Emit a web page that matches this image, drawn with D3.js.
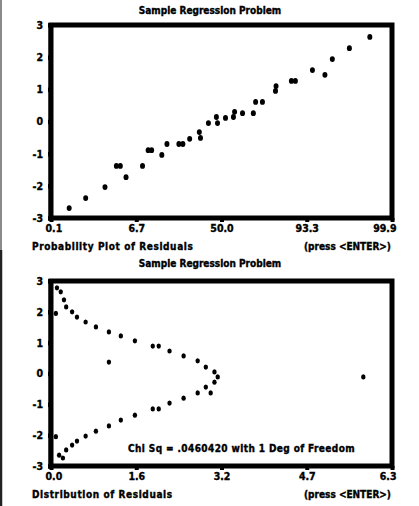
<!DOCTYPE html>
<html><head><meta charset="utf-8">
<script src="https://cdn.jsdelivr.net/npm/d3@7"></script>
<style>
body{margin:0;background:#fff;}
svg{display:block;}
text{font-family:"DejaVu Sans Condensed","DejaVu Sans",sans-serif;font-weight:bold;fill:#000;stroke:#000;stroke-width:0.35px;}
</style></head><body>
<svg id="c" width="419" height="506"></svg>
<script>
const titleText = "Sample Regression Problem";
const pressText = "(press <ENTER>)";

// Normal probability plot: expected normal quantile vs standardized residual
const probQuantiles = [-2.68,-2.39,-2.05,-1.85,-1.78,-1.68,-1.39,-1.29,-1.23,-1.05,-0.96,-0.75,-0.68,-0.56,-0.39,-0.37,-0.23,-0.09,-0.07,0.07,0.21,0.23,0.37,0.56,0.60,0.72,0.95,0.96,1.23,1.30,1.60,1.82,1.95,2.25,2.61];
const probResiduals = [-2.69,-2.38,-2.04,-1.38,-1.38,-1.73,-1.38,-0.89,-0.89,-1.04,-0.70,-0.70,-0.70,-0.54,-0.33,-0.51,-0.05,0.14,-0.05,0.11,0.14,0.30,0.26,0.26,0.61,0.61,0.95,1.10,1.26,1.26,1.60,1.45,1.94,2.28,2.63];
const probTickValues = [-3,-1.5,0,1.5,3];
const probTickLabels = ["0.1","6.7","50.0","93.3","99.9"];
const probCaption = "Probability Plot of Residuals";

const residualTicks = [3,2,1,0,-1,-2,-3];

// Distribution of residuals: expected normal frequency curve
const curveDensity = [0.11,0.18,0.24,0.28,0.39,0.48,0.64,0.83,1.07,1.29,1.55,1.88,1.99,2.19,2.45,2.71,2.86,3.02,3.08,3.02,2.86,2.95,2.71,2.45,2.19,1.88,1.99,1.55,1.29,1.07,0.83,0.64,0.48,0.39,0.28,0.15,0.22];
const curveResidual = [2.78,2.65,2.39,2.16,2.00,1.83,1.67,1.51,1.35,1.22,1.06,0.89,0.89,0.73,0.57,0.41,0.21,0.05,-0.11,-0.28,-0.44,-0.63,-0.63,-0.80,-0.96,-1.15,-1.15,-1.35,-1.51,-1.70,-1.87,-2.03,-2.19,-2.32,-2.48,-2.65,-2.74];
// observed counts
const histCount = [1.07,5.77,0.09,0.09];
const histResidual = [0.37,-0.11,1.95,-2.05];
const distTickValues = [0,1.575,3.15,4.725,6.3];
const distTickLabels = ["0.0","1.6","3.2","4.7","6.3"];
const distCaption = "Distribution of Residuals";
const chiSqText = "Chi Sq = .0460420 with 1 Deg of Freedom";

const svg = d3.select("#c");

// scanned screen edge
svg.append("line").attr("x1",1).attr("x2",1).attr("y1",0).attr("y2",250)
  .attr("stroke","#8a8a8a").attr("stroke-width",2);
svg.append("line").attr("x1",1).attr("x2",1).attr("y1",250).attr("y2",506)
  .attr("stroke","#222").attr("stroke-width",2.5);

function panel(o){
  const g = svg.append("g");
  const x = d3.scaleLinear().domain(o.xDomain).range([51,392]);
  const y = d3.scaleLinear().domain([-3,3]).range([o.bottom,o.top]);

  g.append("text").attr("x",210).attr("y",o.titleY).attr("text-anchor","middle")
    .attr("font-size",10).text(titleText);

  // points
  g.append("g").selectAll("ellipse").data(o.points).join("ellipse")
    .attr("cx",d=>x(d[0])).attr("cy",d=>y(d[1]))
    .attr("rx",o.rx).attr("ry",o.ry).attr("fill","#000");

  // frame
  g.append("rect").attr("x",51).attr("y",o.top).attr("width",341).attr("height",o.bottom-o.top)
    .attr("fill","none").attr("stroke","#000").attr("stroke-width",5);
  g.append("line").attr("x1",50).attr("x2",50).attr("y1",o.top-2).attr("y2",o.bottom+2)
    .attr("stroke","#000").attr("stroke-width",3);

  // y axis
  const ya = g.append("g").attr("transform","translate(51,0)")
    .call(d3.axisLeft(y).tickValues(residualTicks).tickSize(3).tickPadding(5).tickFormat(d=>String(d)));
  ya.select(".domain").remove();
  ya.selectAll("line").attr("stroke","#000").attr("stroke-width",4.5);
  ya.selectAll("text").attr("font-size",10.5).attr("font-family",null);

  // x axis
  const xa = g.append("g").attr("transform",`translate(0,${o.bottom})`)
    .call(d3.axisBottom(x).tickValues(o.ticks).tickSize(4).tickPadding(3).tickFormat((d,i)=>o.labels[i]));
  xa.select(".domain").remove();
  xa.selectAll("line").attr("stroke","#000").attr("stroke-width",4);
  xa.selectAll("text").attr("font-size",10.5).attr("font-family",null)
    .attr("text-anchor",(d,i)=> i===0 ? "start" : (i===o.ticks.length-1 ? "end" : "middle"))
    .attr("dx",(d,i)=> i===0 ? -6 : (i===o.ticks.length-1 ? 4 : 0));

  g.append("text").attr("x",32).attr("y",o.bottom+32).attr("font-size",10)
    .attr("letter-spacing",0.6).text(o.caption);
  g.append("text").attr("x",391).attr("y",o.bottom+32).attr("text-anchor","end").attr("font-size",10).text(pressText);
  return {g,x,y};
}

panel({
  top:25, bottom:218, titleY:14, xDomain:[-3,3],
  points: probQuantiles.map((q,i)=>[q,probResiduals[i]]),
  rx:2.5, ry:2.9,
  ticks: probTickValues, labels: probTickLabels, caption: probCaption
});

const p2 = panel({
  top:281, bottom:466, titleY:267, xDomain:[0,6.3],
  points: curveDensity.map((v,i)=>[v,curveResidual[i]]).concat(histCount.map((v,i)=>[v,histResidual[i]])),
  rx:2.2, ry:2.6,
  ticks: distTickValues, labels: distTickLabels, caption: distCaption
});

p2.g.append("text").attr("x",128).attr("y",p2.y(-2.55)).attr("font-size",10)
  .attr("letter-spacing",0.4).text(chiSqText);
</script>
</body></html>
